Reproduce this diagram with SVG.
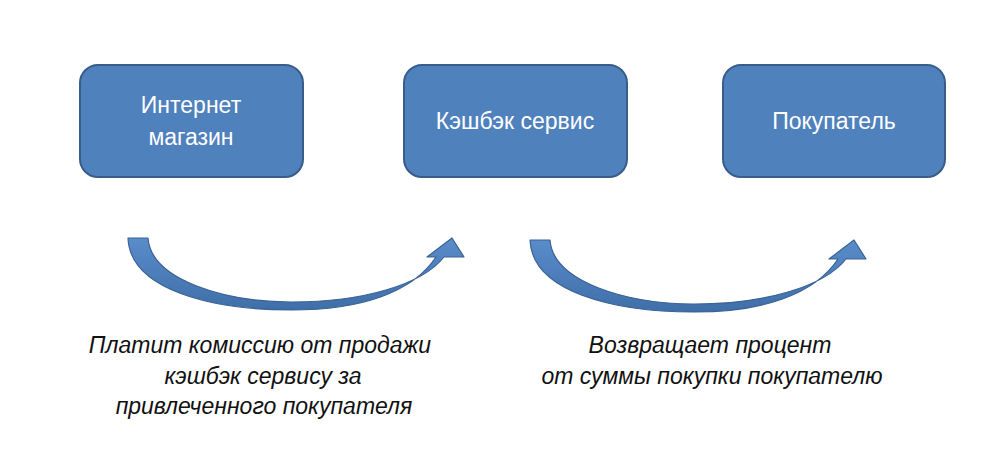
<svg xmlns="http://www.w3.org/2000/svg" width="1000" height="473" viewBox="0 0 1000 473">
<defs>
<linearGradient id="ag" x1="0" y1="0" x2="0" y2="1">
<stop offset="0" stop-color="#5a8ccb"/>
<stop offset="1" stop-color="#3f6fa8"/>
</linearGradient>
<style>
.box{fill:#4f81bd;stroke:#385d8a;stroke-width:2}
.bt{font-family:"Liberation Sans",Arial,sans-serif;font-size:23px;fill:#ffffff;text-anchor:middle}
.arr{fill:url(#ag);stroke:#3a6294;stroke-width:1.2;stroke-linejoin:round}
.lt{font-family:"Liberation Sans",Arial,sans-serif;font-size:23px;font-style:italic;fill:#111111;text-anchor:middle}
</style>
</defs>
<rect width="1000" height="473" fill="#ffffff"/>
<g id="node-shop">
<rect class="box" x="80" y="65" width="223" height="112" rx="18"/>
<text class="bt" x="191" y="113">Интернет</text>
<text class="bt" x="191" y="145">магазин</text>
</g>
<g id="node-cashback">
<rect class="box" x="404" y="65" width="223" height="112" rx="18"/>
<text class="bt" x="515" y="129">Кэшбэк сервис</text>
</g>
<g id="node-buyer">
<rect class="box" x="723" y="65" width="222" height="112" rx="18"/>
<text class="bt" x="834" y="129">Покупатель</text>
</g>
<g id="connectors">
<path id="arrow1" class="arr" d="M128,238 L148,238 C151,280 225,302 292,302 C362,302 422,285 444,257 L464,257 L452,238 L427,257 L436,257 C412,293 360,310 292,310 C212,310 130,290 128,238 Z"/>
<use href="#arrow1" transform="translate(402,2)"/>
</g>
<g id="labels">
<text class="lt" x="260" y="353">Платит комиссию от продажи</text>
<text class="lt" x="263" y="384">кэшбэк сервису за</text>
<text class="lt" x="264" y="414">привлеченного покупателя</text>
<text class="lt" x="710" y="353">Возвращает процент</text>
<text class="lt" x="712" y="384">от суммы покупки покупателю</text>
</g>
</svg>
